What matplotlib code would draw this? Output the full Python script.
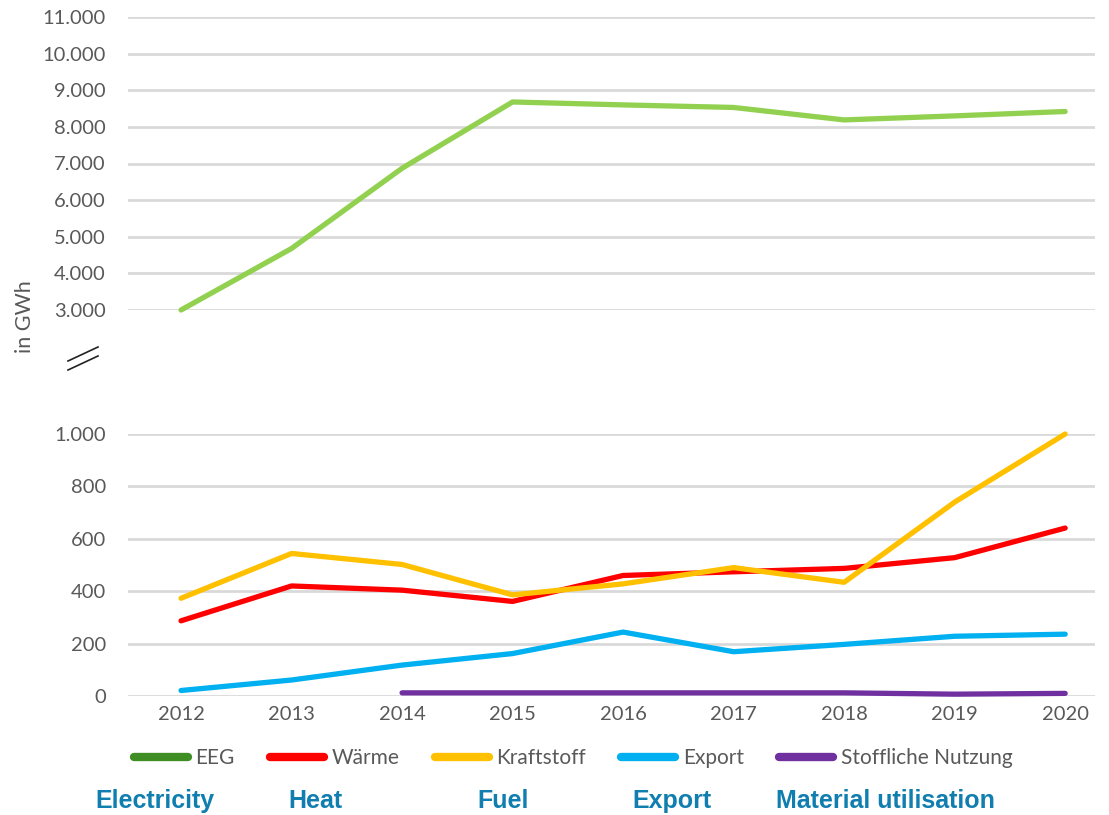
import numpy as np
import matplotlib.pyplot as plt
from matplotlib.lines import Line2D
from matplotlib.ticker import FuncFormatter

# ------------------------------------------------------------
# data (GWh)
# ------------------------------------------------------------
years = [2012, 2013, 2014, 2015, 2016, 2017, 2018, 2019, 2020]

eeg        = [3000, 4680, 6870, 8680, 8600, 8530, 8190, 8300, 8420]
waerme     = [287, 420, 404, 361, 460, 474, 487, 528, 641]
kraftstoff = [373, 544, 502, 386, 428, 490, 434, 740, 1000]
export     = [21, 61, 118, 162, 244, 169, 197, 228, 236]
stoff_years = [2014, 2015, 2016, 2017, 2018, 2019, 2020]
stofflich   = [12, 12, 12, 12, 12, 7, 10]

legend_labels = ['EEG', 'Wärme', 'Kraftstoff', 'Export', 'Stoffliche Nutzung']
english_labels = ['Electricity', 'Heat', 'Fuel', 'Export', 'Material utilisation']

top_ticks = [3000, 4000, 5000, 6000, 7000, 8000, 9000, 10000, 11000]
bottom_ticks = [0, 200, 400, 600, 800, 1000]

# colours
C_EEG_LINE = '#92D050'
C_EEG_LEG = '#3F8E23'
C_WAERME = '#FF0000'
C_KRAFT = '#FFC000'
C_EXPORT = '#00B0F0'
C_STOFF = '#7030A0'
C_TEXT = '#595959'
C_GRID = '#D9D9D9'
C_BLUE = '#107FB0'

plt.rcParams['font.family'] = ['Lato', 'DejaVu Sans']

W, H = 1109, 815
fig = plt.figure(figsize=(W / 100, H / 100), dpi=100)

def px_axes(x0, y0, x1, y1):
    # pixel box (top-left origin) -> figure fraction axes
    return fig.add_axes([x0 / W, 1 - y1 / H, (x1 - x0) / W, (y1 - y0) / H])

ax_top = px_axes(128, 17, 1095, 310)
ax_bot = px_axes(128, 434, 1095, 696)

xlim = (2011.52, 2020.27)
thousands = FuncFormatter(lambda v, p: f'{int(v):,}'.replace(',', '.'))

for ax in (ax_top, ax_bot):
    ax.set_xlim(*xlim)
    for s in ax.spines.values():
        s.set_visible(False)
    ax.tick_params(length=0, labelsize=14.5, labelcolor=C_TEXT)
    ax.grid(axis='y', color=C_GRID, linewidth=2)
    ax.set_axisbelow(True)
    ax.yaxis.set_major_formatter(thousands)

# --- top panel: EEG ---
ax_top.set_ylim(3000, 11000)
ax_top.set_yticks(top_ticks)
ax_top.set_xticks([])
ax_top.plot(years, eeg, color=C_EEG_LINE, linewidth=3.8, solid_capstyle='round',
            solid_joinstyle='round', clip_on=False)
ax_top.tick_params(axis='y', pad=16)

# --- bottom panel: the rest ---
ax_bot.set_ylim(0, 1000)
ax_bot.set_yticks(bottom_ticks)
ax_bot.set_xticks(years)
ax_bot.tick_params(axis='y', pad=16)
ax_bot.tick_params(axis='x', pad=7)
kw = dict(linewidth=3.8, solid_capstyle='round', solid_joinstyle='round', clip_on=False)
ax_bot.plot(years, waerme, color=C_WAERME, **kw)
ax_bot.plot(years, kraftstoff, color=C_KRAFT, **kw)
ax_bot.plot(years, export, color=C_EXPORT, **kw)
ax_bot.plot(stoff_years, stofflich, color=C_STOFF, **kw)

# y label and axis break mark
fig.text(25 / W, 1 - 317 / H, 'in GWh', rotation=90, ha='center', va='center',
         fontsize=15.5, color=C_TEXT)
for dy in (0, 9):
    fig.add_artist(Line2D([68 / W, 98 / W], [1 - (370 - dy) / H, 1 - (356 - dy) / H],
                          color='#222222', linewidth=1.2))

# legend (EEG swatch is darker than its line, as in the original)
handles = [Line2D([], [], color=c, linewidth=6, solid_capstyle='round')
           for c in (C_EEG_LEG, C_WAERME, C_KRAFT, C_EXPORT, C_STOFF)]
fig.legend(handles, legend_labels, loc='center', bbox_to_anchor=(573 / W, 1 - 758 / H),
           ncol=5, frameon=False, fontsize=15, labelcolor=C_TEXT,
           handlelength=2.6, handletextpad=0.35, columnspacing=1.7)

# english translations
eng_x = [155, 315, 503, 672, 885]
for x, lab in zip(eng_x, english_labels):
    fig.text(x / W, 1 - 801 / H, lab, ha='center', va='center', fontsize=18,
             fontweight='bold', color=C_BLUE, family=['Liberation Sans', 'DejaVu Sans'])

plt.savefig('out.png', dpi=100)
